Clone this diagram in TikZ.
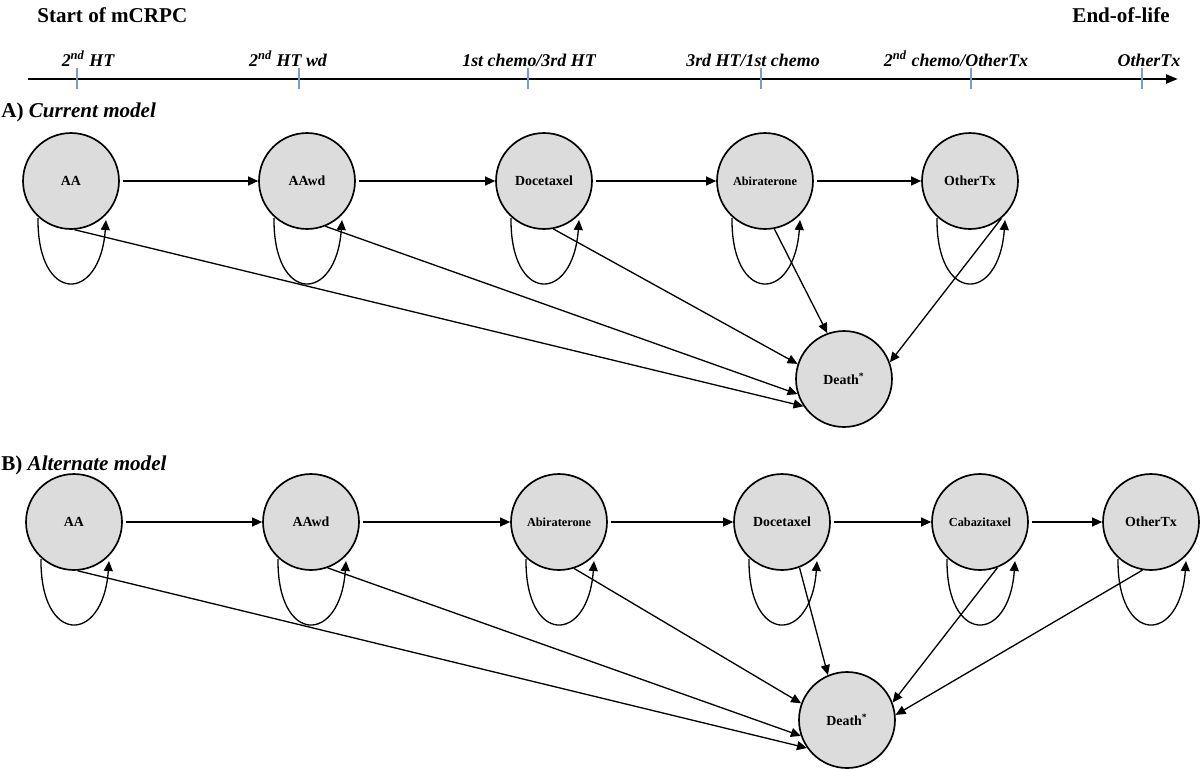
\documentclass[tikz,border=0pt]{standalone}
\usepackage{fontspec}
\setmainfont{Liberation Serif}
\usetikzlibrary{arrows.meta,calc}
\definecolor{nodefill}{HTML}{DCDCDC}
\definecolor{tickblue}{HTML}{7D9CCB}
\tikzset{
  state/.style={circle, draw=black, line width=0.95pt, fill=nodefill, minimum size=1.92cm, inner sep=0pt, font=\fontsize{7.9}{9}\selectfont\bfseries},
  smallstate/.style={state, font=\fontsize{7}{8}\selectfont\bfseries},
  tr/.style={line width=0.75pt, -{Triangle[length=5.7pt,width=5.1pt]}},
  hdr/.style={inner sep=0pt, font=\fontsize{12}{14}\selectfont\bfseries},
  ticklab/.style={inner sep=0pt, anchor=base, font=\fontsize{10.2}{12}\selectfont\bfseries\itshape},
  tickmark/.style={draw=tickblue, line width=0.85pt},
  axis/.style={line width=1.5pt, -{Triangle[length=6.8pt,width=5pt]}}
}
\newcommand\selfloop[1]{\draw[tr] ($(#1)+(-33,37)$) .. controls +(-1,86) and +(-6,84) .. ($(#1)+(35,39)$);}
\begin{document}
\begin{tikzpicture}[x=0.02cm,y=-0.02cm]
\useasboundingbox (0,0) rectangle (1200,768);
% header
\node[hdr, anchor=base west] (start) at (37,22) {Start of mCRPC};
\node[hdr, anchor=base east] (eol) at (1170,22) {End-of-life};
\coordinate (axS) at (28,79);
\coordinate (axE) at (1178,79);
\draw[axis] (axS) -- (axE);
\foreach \x in {77,299,528,761,971,1142}{\draw[tickmark] (\x,68) -- (\x,89);}
\node[ticklab] (t1) at (88,66) {2\textsuperscript{nd} HT};
\node[ticklab] (t2) at (288,66) {2\textsuperscript{nd} HT wd};
\node[ticklab] (t3) at (529,66) {1st chemo/3rd HT};
\node[ticklab] (t4) at (753,66) {3rd HT/1st chemo};
\node[ticklab] (t5) at (956,66) {2\textsuperscript{nd} chemo/OtherTx};
\node[ticklab] (t6) at (1149,66) {OtherTx};
\node[hdr, anchor=base west] (hA) at (1,117) {A) \textit{Current model}};
\node[hdr, anchor=base west] (hB) at (1,470) {B) \textit{Alternate model}};
% Model A
\node[state] (aAA) at (71,181) {AA};
\node[state] (aAAwd) at (307,181) {AAwd};
\node[state] (aDoc) at (544,181) {Docetaxel};
\node[smallstate] (aAbi) at (765,181) {Abiraterone};
\node[state] (aOth) at (970,181) {OtherTx};
\node[state] (aDeath) at (844,379) {Death\textsuperscript{*}};
\draw[tr, shorten <=2pt] (aAA.east) -- (aAAwd.west);
\draw[tr, shorten <=2pt] (aAAwd.east) -- (aDoc.west);
\draw[tr, shorten <=2pt] (aDoc.east) -- (aAbi.west);
\draw[tr, shorten <=2pt] (aAbi.east) -- (aOth.west);
\selfloop{aAA}
\selfloop{aAAwd}
\selfloop{aDoc}
\selfloop{aAbi}
\selfloop{aOth}
\draw[tr] (aAA.-86) -- (aDeath.-146);
\draw[tr] (aAAwd.-68) -- (aDeath.-162);
\draw[tr] (aDoc.-79) -- (aDeath.162);
\draw[tr] (aAbi.-79) -- (aDeath.110);
\draw[tr] (aOth.-50) -- (aDeath.20);
% Model B
\node[state] (bAA) at (74,522) {AA};
\node[state] (bAAwd) at (311,522) {AAwd};
\node[smallstate] (bAbi) at (559,522) {Abiraterone};
\node[state] (bDoc) at (782,522) {Docetaxel};
\node[smallstate] (bCab) at (980,522) {Cabazitaxel};
\node[state] (bOth) at (1151,522) {OtherTx};
\node[state] (bDeath) at (847,720) {Death\textsuperscript{*}};
\draw[tr, shorten <=2pt] (bAA.east) -- (bAAwd.west);
\draw[tr, shorten <=2pt] (bAAwd.east) -- (bAbi.west);
\draw[tr, shorten <=2pt] (bAbi.east) -- (bDoc.west);
\draw[tr, shorten <=2pt] (bDoc.east) -- (bCab.west);
\draw[tr, shorten <=2pt] (bCab.east) -- (bOth.west);
\selfloop{bAA}
\selfloop{bAAwd}
\selfloop{bAbi}
\selfloop{bDoc}
\selfloop{bCab}
\selfloop{bOth}
\draw[tr] (bAA.-86) -- (bDeath.-145);
\draw[tr] (bAAwd.-70) -- (bDeath.-161);
\draw[tr] (bAbi.-72) -- (bDeath.160);
\draw[tr] (bDoc.-69) -- (bDeath.113);
\draw[tr] (bCab.-69) -- (bDeath.21);
\draw[tr] (bOth.-100) -- (bDeath.6);
\end{tikzpicture}
\end{document}
